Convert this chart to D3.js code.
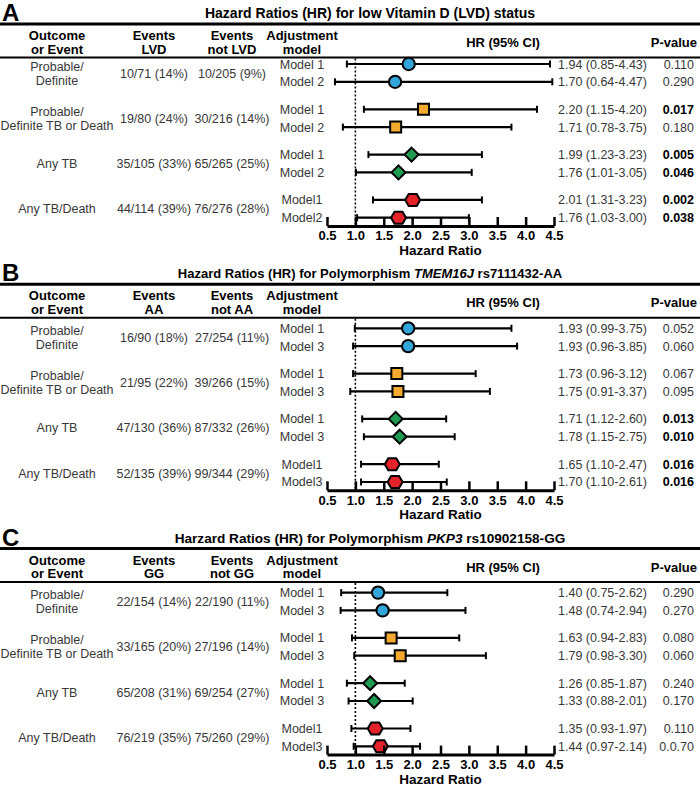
<!DOCTYPE html>
<html><head><meta charset="utf-8">
<script src="https://cdn.jsdelivr.net/npm/d3@7"></script>
<style>
html,body{margin:0;padding:0;background:#fff;}
svg text{font-family:"Liberation Sans",Arial,sans-serif;}
</style></head>
<body>
<svg id="chart" width="700" height="791"></svg>
<script>
// ---------- data ----------
const outcomes = [["Probable/","Definite"],["Probable/","Definite TB or Death"],["Any TB"],["Any TB/Death"]];
const tickValues = [0.5,1.0,1.5,2.0,2.5,3.0,3.5,4.0,4.5];
const letters = ["A","B","C"];

const titleA = [["Hazard Ratios (HR) for low Vitamin D (LVD) status", false]];
const titleB = [["Hazard Ratios (HR) for Polymorphism ", false],["TMEM16J", true],[" rs7111432-AA", false]];
const titleC = [["Harzard Ratios (HR) for Polymorphism ", false],["PKP3", true],[" rs10902158-GG", false]];

const headA = [["Events","LVD"],["Events","not LVD"]];
const headB = [["Events","AA"],["Events","not AA"]];
const headC = [["Events","GG"],["Events","not GG"]];

const evExpA = ["10/71 (14%)","19/80 (24%)","35/105 (33%)","44/114 (39%)"];
const evNotA = ["10/205 (9%)","30/216 (14%)","65/265 (25%)","76/276 (28%)"];
const modelsA = ["Model 1","Model 2","Model 1","Model 2","Model 1","Model 2","Model1","Model2"];
const hrA = [1.94,1.70,2.20,1.71,1.99,1.76,2.01,1.76];
const loA = [0.85,0.64,1.15,0.78,1.23,1.01,1.31,1.03];
const hiA = [4.43,4.47,4.20,3.75,3.23,3.05,3.23,3.00];
const pA  = ["0.110","0.290","0.017","0.180","0.005","0.046","0.002","0.038"];
const sigA = [false,false,true,false,true,true,true,true];

const evExpB = ["16/90 (18%)","21/95 (22%)","47/130 (36%)","52/135 (39%)"];
const evNotB = ["27/254 (11%)","39/266 (15%)","87/332 (26%)","99/344 (29%)"];
const modelsB = ["Model 1","Model 3","Model 1","Model 3","Model 1","Model 3","Model1","Model3"];
const hrB = [1.93,1.93,1.73,1.75,1.71,1.78,1.65,1.70];
const loB = [0.99,0.96,0.96,0.91,1.12,1.15,1.10,1.10];
const hiB = [3.75,3.85,3.12,3.37,2.60,2.75,2.47,2.61];
const pB  = ["0.052","0.060","0.067","0.095","0.013","0.010","0.016","0.016"];
const sigB = [false,false,false,false,true,true,true,true];

const evExpC = ["22/154 (14%)","33/165 (20%)","65/208 (31%)","76/219 (35%)"];
const evNotC = ["22/190 (11%)","27/196 (14%)","69/254 (27%)","75/260 (29%)"];
const modelsC = ["Model 1","Model 3","Model 1","Model 3","Model 1","Model 3","Model1","Model3"];
const hrC = [1.40,1.48,1.63,1.79,1.26,1.33,1.35,1.44];
const loC = [0.75,0.74,0.94,0.98,0.85,0.88,0.93,0.97];
const hiC = [2.62,2.94,2.83,3.30,1.87,2.01,1.97,2.14];
const pC  = ["0.290","0.270","0.080","0.060","0.240","0.170","0.110","0.0.70"];
const sigC = [false,false,false,false,false,false,false,false];

const groupColors = ["#32a6db","#f4a92f","#1f9a52","#e3222a"];
const groupShapes = ["circle","square","diamond","hexagon"];

const panels = [
  {letter:letters[0], title:titleA, titleSize:14, headShift:0, head:headA, evExp:evExpA, evNot:evNotA, models:modelsA, hr:hrA, lo:loA, hi:hiA, p:pA, sig:sigA},
  {letter:letters[1], title:titleB, titleSize:13, headShift:-4, head:headB, evExp:evExpB, evNot:evNotB, models:modelsB, hr:hrB, lo:loB, hi:hiB, p:pB, sig:sigB},
  {letter:letters[2], title:titleC, titleSize:13.6, headShift:-4, head:headC, evExp:evExpC, evNot:evNotC, models:modelsC, hr:hrC, lo:loC, hi:hiC, p:pC, sig:sigC}
];

// ---------- layout ----------
const W = 700;
const panelTop = d3.scaleLinear().domain([0,1]).range([0,264.3]);
const x = d3.scaleLinear().domain([0.5,4.5]).range([327,554]);
const rowY = (g,m) => 64 + g*45.3 + m*17.8;
const axisY = 226;
const colOutcome = 57, colExp = 154, colNot = 232, colModel = 302, colHR = 558, colP = 694;
const txtColor = "#383838";

const svg = d3.select("#chart");

function shapePath(shape){
  if(shape==="circle") return d3.symbol().type(d3.symbolCircle).size(Math.PI*38)();
  if(shape==="square") return "M-5.5,-5.5H5.5V5.5H-5.5Z";
  if(shape==="diamond") return "M0,-7L7,0L0,7L-7,0Z";
  return "M-7.5,0L-4,-6H4L7.5,0L4,6H-4Z";
}

panels.forEach((P,pi)=>{
  const g = svg.append("g").attr("transform",`translate(0,${panelTop(pi)})`);
  const hs = P.headShift;
  const h = g.append("g").attr("transform",`translate(0,${hs})`);

  // letter
  h.append("text").attr("x",2).attr("y",21).attr("font-size",24).attr("font-weight","bold").text(P.letter);
  // title
  const t = h.append("text").attr("x",370).attr("y",18).attr("text-anchor","middle")
    .attr("font-size",P.titleSize).attr("font-weight","bold");
  P.title.forEach(([s,it])=>t.append("tspan").attr("font-style",it?"italic":"normal").text(s));
  // rules
  h.append("line").attr("x1",0).attr("x2",W).attr("y1",24).attr("y2",24).attr("stroke","#000").attr("stroke-width",3);
  h.append("line").attr("x1",0).attr("x2",W).attr("y1",57.5).attr("y2",57.5).attr("stroke","#000").attr("stroke-width",2);

  // headers
  const heads = [[colOutcome,["Outcome","or Event"]],[colExp,P.head[0]],[colNot,P.head[1]],[colModel,["Adjustment","model"]]];
  heads.forEach(([cx,lines])=>{
    lines.forEach((l,i)=>{
      h.append("text").attr("x",cx).attr("y",40+i*13.5).attr("text-anchor","middle")
        .attr("font-size",13).attr("font-weight","bold").text(l);
    });
  });
  h.append("text").attr("x",503).attr("y",47).attr("text-anchor","middle").attr("font-size",13).attr("font-weight","bold").text("HR (95% CI)");
  h.append("text").attr("x",697).attr("y",47).attr("text-anchor","end").attr("font-size",13).attr("font-weight","bold").text("P-value");

  // group labels and events
  outcomes.forEach((lines,gi)=>{
    const cy = rowY(gi,0)+9;
    lines.forEach((l,i)=>{
      g.append("text").attr("x",colOutcome).attr("y",cy + 4.5 + (i-(lines.length-1)/2)*14)
        .attr("text-anchor","middle").attr("font-size",12.5).attr("fill",txtColor).text(l);
    });
    g.append("text").attr("x",colExp).attr("y",cy+4.5).attr("text-anchor","middle").attr("font-size",12.5).attr("fill",txtColor).text(P.evExp[gi]);
    g.append("text").attr("x",colNot).attr("y",cy+4.5).attr("text-anchor","middle").attr("font-size",12.5).attr("fill",txtColor).text(P.evNot[gi]);
  });

  // reference line
  g.append("line").attr("x1",x(1)).attr("x2",x(1)).attr("y1",58.5+hs).attr("y2",axisY)
    .attr("stroke","#000").attr("stroke-width",1.6).attr("stroke-dasharray","2,2");

  // rows
  P.hr.forEach((v,i)=>{
    const gi = Math.floor(i/2), m = i%2;
    const y = rowY(gi,m);
    g.append("text").attr("x",colModel).attr("y",y+4.5).attr("text-anchor","middle").attr("font-size",12.5).attr("fill",txtColor).text(P.models[i]);
    g.append("line").attr("x1",x(P.lo[i])).attr("x2",x(P.hi[i])).attr("y1",y).attr("y2",y).attr("stroke","#000").attr("stroke-width",2.2);
    [P.lo[i],P.hi[i]].forEach(c=>{
      g.append("line").attr("x1",x(c)).attr("x2",x(c)).attr("y1",y-3.5).attr("y2",y+3.5).attr("stroke","#000").attr("stroke-width",2);
    });
    g.append("path").attr("d",shapePath(groupShapes[gi])).attr("transform",`translate(${x(v)},${y})`)
      .attr("fill",groupColors[gi]).attr("stroke","#000").attr("stroke-width",2);
    g.append("text").attr("x",colHR).attr("y",y+4.5).attr("font-size",12.5).attr("fill",txtColor)
      .text(`${v.toFixed(2)} (${P.lo[i].toFixed(2)}-${P.hi[i].toFixed(2)})`);
    g.append("text").attr("x",colP).attr("y",y+4.5).attr("text-anchor","end").attr("font-size",12.5)
      .attr("font-weight",P.sig[i]?"bold":"normal").attr("fill",P.sig[i]?"#000":txtColor).text(P.p[i]);
  });

  // axis
  const ax = g.append("g").attr("transform",`translate(0,${axisY})`)
    .call(d3.axisBottom(x).tickValues(tickValues).tickFormat(d3.format(".1f")).tickSizeInner(-9).tickSizeOuter(0).tickPadding(5));
  ax.select(".domain").attr("stroke","#000").attr("stroke-width",3);
  ax.selectAll(".tick line").attr("stroke","#000").attr("stroke-width",2.5);
  ax.selectAll(".tick text").attr("fill","#000").attr("font-size",13).attr("font-weight","bold")
    .attr("font-family","'Liberation Sans',Arial,sans-serif");
  g.append("text").attr("x",(x(0.5)+x(4.5))/2).attr("y",axisY+29).attr("text-anchor","middle")
    .attr("font-size",13.5).attr("font-weight","bold").text("Hazard Ratio");
});
</script>
</body></html>
